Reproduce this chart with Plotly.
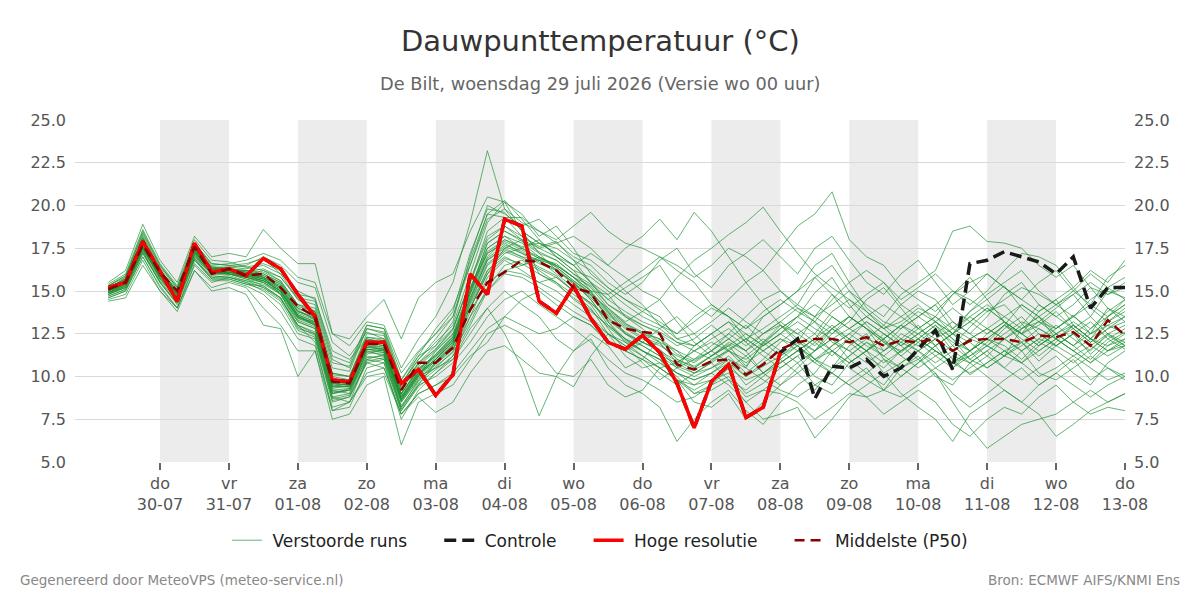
import pandas as pd
import plotly.graph_objects as go

# ---------------- data ----------------
start_time = "2026-07-29 06:00"
n_steps = 60
times = pd.date_range(start_time, periods=n_steps, freq="6h")

day_ticks = pd.date_range("2026-07-30", "2026-08-13", freq="D")
day_names = ["do", "vr", "za", "zo", "ma", "di", "wo", "do", "vr", "za", "zo", "ma", "di", "wo", "do"]
day_dates = ["30-07", "31-07", "01-08", "02-08", "03-08", "04-08", "05-08", "06-08",
             "07-08", "08-08", "09-08", "10-08", "11-08", "12-08", "13-08"]

hires = [15.2, 15.5, 17.9, 16.2, 14.4, 17.8, 16.1, 16.3, 15.9, 16.9, 16.3, 14.8, 13.5, 9.8, 9.7,
         12.0, 12.0, 9.6, 10.4, 8.9, 10.1, 16.0, 14.8, 19.2, 18.8, 14.4, 13.7, 15.3, 13.4, 12.0,
         11.6, 12.4, 11.4, 9.6, 7.0, 9.7, 10.7, 7.6, 8.2, 11.4]

control = hires + [12.2, 8.7, 10.6, 10.5, 11.0, 10.0, 10.5, 11.6, 12.7, 10.4, 16.6, 16.8, 17.3,
                   17.0, 16.7, 16.0, 17.0, 14.0, 15.2, 15.2]

p50 = [15.1, 15.5, 17.7, 16.1, 15.0, 17.6, 16.0, 16.3, 15.9, 16.0, 15.2, 14.1, 13.5, 9.7, 9.6,
       11.9, 11.9, 9.2, 10.8, 10.8, 11.7, 13.9, 15.5, 16.1, 16.8, 16.7, 16.2, 15.2, 14.9, 13.3,
       12.8, 12.6, 12.5, 10.7, 10.4, 10.9, 11.0, 10.1, 10.7, 11.6, 12.0, 12.2, 12.2, 12.0, 12.3,
       11.8, 12.1, 12.0, 12.2, 11.5, 12.1, 12.2, 12.2, 12.0, 12.4, 12.3, 12.6, 11.8, 13.3, 12.4]

members = [
    [15.2,15.6,18.2, 16.3,14.9,17.6,16.4, 16.3,16.1,16.0,15.5, 14.0,13.5,9.8,9.5, 12.0,11.8,9.0,10.5, 11.2,12.3,15.0,17.8, 18.5,17.9,17.2,16.8, 16.0,15.2,14.0,13.1, 12.5,12.2,11.0,10.5, 11.2,11.8,10.6,11.9, 12.8,13.5,14.9,15.8, 14.2,13.0,12.1,11.4, 12.2,13.0,11.8,12.9, 13.8,14.2,13.1,12.0, 12.8,13.6,12.5,14.0, 13.2],
    [14.8,15.3,17.5, 15.8,14.6,17.2,16.0, 16.1,15.8,15.6,15.0, 13.5,13.0,9.2,9.0, 11.5,11.2,8.5,9.8, 10.5,11.5,13.8,15.5, 16.2,16.5,17.0,16.5, 15.8,15.0,13.2,12.0, 11.2,10.5,9.8,9.5, 9.8,10.2,9.0,9.6, 10.5,11.2,10.0,9.5, 10.8,11.5,10.2,10.8, 11.5,12.2,11.0,10.1, 10.8,11.5,12.0,10.9, 11.8,12.5,11.3,12.2, 11.6],
    [15.1,15.8,18.5, 16.5,15.2,17.8,16.6, 16.5,16.6,16.9,16.0, 14.5,13.8,10.2,10.0, 12.5,12.4,9.5,11.0, 12.0,13.0,16.0,19.0, 20.2,19.5,18.2,18.8, 17.5,16.0,15.2,14.5, 14.0,13.5,12.2,11.8, 12.5,13.2,12.0,13.5, 14.2,15.0,16.5,17.2, 15.5,14.0,13.2,12.8, 13.5,14.2,12.8,13.8, 14.5,15.3,14.0,13.2, 14.0,14.8,13.5,15.0, 14.6],
    [14.9,15.2,17.3, 15.5,14.2,16.8,15.8, 15.9,15.6,15.2,14.5, 13.0,12.5,8.8,8.5, 11.0,10.8,8.0,9.5, 10.0,10.8,12.0,13.5, 14.5,15.0,14.2,13.5, 12.8,12.0,11.0,10.2, 9.8,9.2,8.5,8.8, 9.5,10.0,8.8,9.2, 10.0,10.8,9.5,9.0, 9.8,10.5,9.2,8.8, 9.5,10.2,9.0,8.2, 9.0,9.8,10.5,9.5, 10.2,11.0,9.8,10.5, 10.0],
    [15.3,15.9,18.0, 16.0,15.0,17.5,16.3, 16.0,15.9,16.2,15.6, 14.2,14.0,10.5,10.3, 12.8,12.6,9.8,11.2, 11.8,12.8,15.5,18.5, 19.3,18.2,17.6,17.9, 16.8,15.5,14.5,15.2, 15.8,16.5,15.0,14.2, 13.5,14.5,15.5,16.2, 15.0,14.0,13.2,12.5, 13.2,14.5,15.2,14.0, 12.8,13.5,14.8,15.8, 14.5,13.2,12.5,13.8, 14.5,13.0,12.2,13.5, 14.2],
    [15.0,15.4,17.6, 15.7,14.5,17.0,16.0, 16.2,16.2,15.8,14.8, 13.2,12.8,9.0,9.3, 11.3,11.6,8.6,10.0, 11.5,12.5,14.0,16.0, 17.5,18.0,16.0,15.5, 14.8,14.0,12.5,11.2, 10.5,10.8,10.0,9.0, 9.5,10.5,9.8,10.2, 11.0,10.2,9.2,10.5, 11.8,12.5,11.0,10.0, 10.8,11.8,12.5,11.5, 10.5,11.2,12.8,13.5, 12.2,11.5,10.8,11.8, 12.5],
    [14.6,15.0,17.0, 15.2,14.0,16.5,15.5, 15.8,15.5,15.0,14.2, 12.5,12.2,8.5,8.8, 10.8,10.5,7.8,9.0, 9.5,10.2,11.5,12.8, 13.5,14.5,15.0,14.2, 13.5,13.0,12.0,11.5, 12.0,12.8,13.5,12.5, 11.5,12.2,13.0,12.0, 11.2,12.0,13.5,14.8, 13.5,12.8,11.5,12.2, 13.0,11.8,10.5,11.2, 12.0,13.0,14.2,13.5, 12.5,11.8,12.8,13.8, 14.5],
    [15.4,16.0,18.6, 16.6,15.3,18.0,16.8, 16.7,16.4,16.2,15.8, 14.5,14.2,10.8,10.6, 13.0,12.8,10.2,11.5, 12.5,13.5,16.5,19.2, 19.8,19.0,18.5,17.8, 17.0,16.5,15.5,14.8, 15.5,16.8,17.5,16.0, 15.2,16.5,17.2,18.0, 17.0,16.0,17.5,18.2, 16.8,15.5,14.8,16.0, 16.8,15.5,14.2,15.0, 16.0,15.2,14.5,15.5, 16.2,15.0,14.2,15.8, 16.5],
    [14.9,15.3,17.4, 15.9,14.7,17.3,16.1, 16.0,15.8,15.5,14.8, 13.0,12.0,8.0,8.2, 10.5,10.8,7.5,9.2, 10.2,11.2,13.5,15.8, 16.8,16.2,15.5,15.8, 15.0,14.2,12.8,11.5, 11.0,10.2,9.5,10.2, 10.8,9.8,8.5,9.2, 9.0,8.5,7.5,8.2, 9.0,8.8,7.8,8.5, 9.2,8.5,7.2,6.5, 7.5,8.2,7.8,8.8, 9.5,8.5,7.8,8.2, 8.0],
    [15.1,15.7,18.1, 16.2,15.0,17.5,16.4, 16.4,16.3,16.5,16.0, 15.0,14.5,11.5,11.0, 12.2,12.0,9.2,10.8, 11.8,13.2,17.0,20.0, 19.5,18.8,19.2,18.2, 17.2,16.8,16.0,15.0, 14.2,13.0,12.5,13.2, 14.0,13.5,12.2,12.8, 13.5,14.2,15.8,16.5, 15.0,13.8,13.0,14.2, 15.0,14.5,13.2,12.5, 13.5,14.8,15.5,14.2, 13.5,14.2,15.2,14.0, 13.5],
    [14.7,15.1,17.2, 15.5,14.3,16.9,15.7, 15.7,15.4,15.3,14.6, 12.8,12.5,9.0,9.2, 11.0,11.3,8.2,9.5, 10.8,11.8,14.2,16.2, 17.2,17.5,18.0,17.0, 16.2,15.0,13.8,12.5, 11.8,11.2,10.5,11.0, 11.5,10.8,9.5,10.2, 11.0,11.8,10.8,10.2, 11.2,12.0,11.5,12.5, 12.0,11.2,10.5,11.5, 12.2,11.8,11.0,12.0, 11.5,10.8,11.6,12.4, 11.8],
    [14.5,14.8,16.8, 15.0,13.8,16.2,15.2, 15.5,15.2,14.0,13.0, 11.5,11.5,7.5,7.8, 9.5,10.0,6.0,8.5, 9.0,9.5,11.0,12.5, 13.0,12.5,11.5,10.2, 10.0,11.0,9.5,8.8, 9.2,10.5,9.8,8.5, 8.2,9.0,7.5,8.5, 9.5,10.5,11.5,12.2, 11.0,10.2,9.5,10.8, 11.5,10.5,9.8,10.5, 11.2,12.2,11.5,10.2, 9.8,10.5,11.2,10.5, 9.8],
    [15.2,15.6,17.9, 16.1,14.9,17.5,16.3, 16.4,16.5,17.0,16.5, 15.5,15.2,12.0,11.2, 12.6,12.2,9.5,11.2, 12.8,14.0,16.5,19.5, 20.3,19.2,18.0,17.0, 16.5,17.2,16.5,15.8, 15.0,14.5,13.2,12.0, 11.2,11.8,12.5,11.8, 12.5,13.2,12.5,13.8, 14.5,13.8,12.8,13.2, 14.0,13.5,12.5,13.8, 14.8,15.5,16.2,15.0, 14.2,15.0,16.0,15.2, 15.8],
    [15.0,15.5,17.7, 16.0,14.8,17.4,16.2, 16.1,16.0,15.7,15.2, 13.6,13.0,9.4,9.6, 11.8,11.5,8.8,10.2, 11.0,12.0,14.8,17.0, 18.0,17.6,17.8,17.2, 16.5,15.5,14.8,13.5, 12.8,12.0,10.8,10.2, 10.5,11.2,10.2,11.0, 12.0,12.8,12.0,11.2, 12.2,13.2,12.5,11.8, 12.5,13.2,12.2,11.0, 11.8,12.8,13.5,12.5, 11.8,12.5,13.2,12.2, 12.8],
    [15.3,15.8,18.3, 16.4,15.1,17.7,16.5, 16.6,16.8,17.2,16.8, 15.8,15.5,12.5,11.8, 13.2,13.0,10.5,12.2, 13.5,15.5,19.0,23.2, 19.8,18.5,17.2,16.2, 15.5,14.5,13.0,12.2, 11.5,11.0,10.2,9.5, 10.2,11.0,10.5,12.0, 13.0,12.2,11.5,12.8, 13.5,12.8,12.0,11.5, 12.2,13.0,12.2,11.5, 12.5,13.2,12.0,11.2, 12.0,13.0,12.2,11.5, 12.2],
    [15.1,15.5,17.8, 16.0,14.9,17.4,16.2, 16.2,16.0,15.8,15.2, 13.8,13.5,9.8,9.6, 12.0,11.8,9.0,10.4, 11.2,12.2,14.8,17.5, 18.2,17.8,17.0,16.5, 15.8,15.0,14.8,15.5, 16.2,17.0,16.5,15.8, 16.5,17.5,17.0,16.2, 17.5,18.8,19.5,20.8, 18.0,17.0,16.5,15.2, 14.5,13.8,14.8,15.5, 16.0,15.2,14.5,13.8, 14.5,15.2,14.0,13.2, 14.0],
    [14.8,15.2,17.5, 15.8,14.5,17.0,15.9, 15.8,15.6,15.4,14.8, 13.2,12.8,9.0,9.2, 11.2,11.0,8.2,9.8, 10.8,11.6,13.5,15.0, 16.0,15.8,15.2,14.5, 13.8,13.2,12.5,12.0, 11.5,11.0,9.8,9.0, 9.2,9.8,9.2,10.0, 10.8,11.5,12.2,13.5, 12.8,12.2,11.8,12.8, 13.5,12.8,11.5,10.8, 11.5,12.2,13.0,14.2, 13.5,12.8,12.0,12.8, 13.5],
    [15.0,15.4,17.6, 15.9,14.7,17.2,16.1, 16.0,15.8,15.5,14.9, 13.4,13.2,9.5,9.4, 11.6,11.4,8.6,10.0, 10.5,11.0,12.5,14.0, 15.0,14.2,13.5,12.2, 11.5,12.2,10.5,9.5, 9.0,8.2,6.2,7.5, 8.5,9.2,8.0,7.2, 8.5,9.5,10.2,11.5, 10.5,9.8,9.2,10.5, 11.2,10.0,9.5,10.8, 11.5,10.5,9.8,10.5, 11.2,10.2,9.5,10.8, 11.5],
    [15.2,15.7,18.0, 16.2,15.0,17.5,16.3, 16.3,16.1,15.9,15.4, 14.0,13.6,10.0,9.8, 12.2,12.0,9.2,10.6, 11.5,12.5,15.2,17.2, 17.8,17.2,16.8,16.0, 15.2,14.8,14.0,13.2, 13.8,14.5,15.8,16.8, 17.5,18.3,19.0,19.9, 18.5,17.2,16.0,15.2, 14.5,13.5,12.8,13.5, 14.2,13.2,12.5,13.2, 14.0,13.2,12.5,13.0, 13.8,12.8,12.0,12.8, 13.2],
    [14.9,15.3,17.4, 15.7,14.6,17.1,16.0, 16.0,15.7,15.3,14.6, 12.9,12.4,8.6,8.8, 10.8,11.0,8.0,9.4, 10.2,11.0,12.8,14.0, 12.5,10.5,7.7,10.0, 11.5,12.5,11.8,10.5, 11.0,12.2,11.5,10.5, 11.2,12.0,11.5,10.2, 10.8,11.5,12.2,11.5, 10.8,11.5,12.5,11.8, 11.0,11.8,12.5,12.0, 11.2,10.5,11.5,12.2, 11.8,12.5,11.8,11.2, 11.8],
    [14.6,15.0,17.0, 15.3,14.0,16.6,15.6, 15.6,15.3,14.8,13.8, 12.2,11.8,8.2,8.5, 10.2,10.5,7.8,8.8, 7.9,8.5,10.2,11.5, 11.8,11.0,10.2,10.0, 9.4,11.2,12.5,11.8, 10.8,9.8,10.5,11.8, 12.5,11.5,10.5,9.8, 9.2,8.8,9.5,10.2, 9.5,8.8,9.2,10.0, 10.8,11.5,10.8,10.2, 10.8,11.5,10.8,10.0, 10.5,11.2,10.5,9.8, 10.2],
    [15.1,15.6,17.9, 16.1,14.9,17.5,16.3, 16.2,16.1,16.3,15.8, 14.6,14.4,11.0,10.5, 12.8,12.5,9.6,11.0, 12.2,13.5,16.8,19.5, 19.3,19.3,18.5,18.0, 18.8,19.6,18.5,17.8, 17.5,17.0,16.2,15.5, 14.2,13.5,12.8,13.5, 14.2,15.0,15.8,14.8, 14.0,14.8,15.5,14.2, 13.5,14.2,15.0,14.5, 13.8,14.5,15.2,14.8, 14.2,14.8,15.5,14.8, 15.2],
    [15.0,15.5,17.7, 16.0,14.8,17.3,16.1, 16.1,15.9,15.7,15.1, 13.6,13.2,9.6,9.5, 11.7,11.6,8.8,10.2, 11.0,12.2,15.0,17.8, 18.5,18.0,17.5,17.8, 18.2,17.5,16.5,17.5, 18.2,19.2,18.0,19.6, 18.5,17.0,15.5,14.2, 13.0,12.0,11.5,12.5, 13.5,12.8,12.0,11.2, 12.0,12.8,12.0,11.5, 12.2,13.0,12.5,11.8, 12.5,13.2,12.5,13.0, 13.5],
    [14.9,15.4,17.5, 15.9,14.7,17.2,16.0, 16.0,15.8,15.6,15.0, 13.4,13.0,9.2,9.3, 11.5,11.4,8.6,10.0, 10.8,11.8,14.0,16.2, 17.0,16.5,16.8,16.2, 15.5,14.5,13.2,12.2, 11.5,10.8,10.2,9.8, 10.2,9.5,8.5,7.5, 7.8,8.2,6.4,7.5, 8.8,9.5,10.2,9.0, 8.2,7.5,6.2,7.8, 8.5,9.2,8.5,9.5, 10.2,9.5,8.8,9.5, 10.0],
    [15.0,15.4,17.6, 15.9,14.7,17.3,16.1, 16.1,15.9,15.6,15.0, 13.5,13.1,9.4,9.4, 11.6,11.5,8.7,10.1, 11.0,12.0,14.5,16.8, 17.5,17.0,16.8,16.5, 15.8,14.8,13.5,12.5, 12.0,11.5,10.5,10.0, 10.5,11.0,10.0,10.8, 11.5,12.2,11.0,10.5, 11.2,12.0,11.2,10.5, 11.0,10.2,8.5,7.0, 5.8,6.5,7.2,7.5, 7.8,8.5,9.2,8.5, 9.0],
    [15.2,15.7,18.1, 16.2,15.0,17.6,16.3, 16.3,16.2,16.0,15.5, 14.1,13.8,10.2,10.0, 12.3,12.2,9.4,10.8, 11.6,12.8,15.5,18.0, 18.8,18.2,17.5,17.0, 16.2,15.8,15.0,14.2, 13.5,13.0,12.2,12.5, 13.2,14.0,13.2,12.5, 13.2,14.0,13.5,14.2, 15.0,14.2,13.5,14.8, 15.5,16.2,18.5,18.8, 17.9,17.8,17.5,16.5, 15.8,16.5,15.2,14.8, 15.5],
    [14.8,15.2,17.3, 15.6,14.4,16.9,15.8, 15.8,15.5,15.2,14.6, 13.0,12.6,8.8,9.0, 11.1,11.2,8.3,9.7, 10.6,11.4,13.2,15.2, 16.5,16.8,16.2,15.5, 14.5,13.8,13.0,12.2, 11.8,11.2,10.8,11.5, 12.2,12.8,12.0,11.2, 10.5,11.2,12.0,12.8, 12.0,11.2,10.5,11.5, 12.2,11.5,10.8,11.5, 12.2,11.5,10.8,11.8, 12.5,11.8,11.0,12.0, 12.6],
    [15.3,15.9,18.4, 16.5,15.2,17.8,16.6, 16.5,16.4,16.6,16.2, 14.8,14.6,11.2,10.8, 13.0,12.8,9.8,11.4, 12.5,13.8,17.2,19.8, 19.6,18.5,17.8,17.5, 16.8,16.2,15.2,14.5, 13.8,13.2,12.5,13.5, 14.2,13.5,12.8,13.8, 14.5,13.8,13.2,14.5, 15.5,16.2,15.5,14.5, 15.2,16.0,15.0,14.2, 15.0,16.2,17.2,17.0, 16.5,15.2,16.2,15.5, 16.8],
    [15.0,15.5,17.8, 16.0,14.8,17.4,16.2, 16.2,16.0,15.8,15.2, 13.7,13.3,9.6,9.7, 11.9,11.7,8.9,10.3, 11.1,12.1,14.6,16.8, 17.6,17.2,16.6,16.2, 15.4,14.6,13.6,12.8, 12.2,11.8,11.2,10.8, 11.5,12.5,13.5,14.5, 15.0,14.2,13.5,12.8, 12.2,11.5,12.2,13.0, 12.5,11.8,12.5,13.5, 14.2,13.5,12.8,13.5, 14.2,13.5,14.5,15.2, 14.5],
    [14.7,15.1,17.2, 15.5,14.3,16.8,15.7, 15.7,15.4,15.1,14.4, 12.7,12.3,8.7,8.9, 10.9,11.1,8.1,9.6, 10.4,11.2,13.0,15.0, 16.2,16.0,15.5,15.0, 14.2,13.5,12.5,11.8, 11.2,10.5,9.8,9.2, 9.8,10.5,11.2,10.2, 9.5,10.2,11.0,10.2, 9.5,10.2,11.0,10.5, 9.8,10.5,11.2,10.8, 10.0,9.2,8.5,7.8, 6.5,7.2,8.0,8.5, 9.0],
    [15.5,16.2,18.9, 16.8,15.5,18.2,17.0, 17.2,17.0,18.6,17.5, 16.6,16.6,12.5,12.2, 13.5,14.5,12.2,14.6, 15.5,16.0,18.5,20.5, 20.2,18.5,17.8,17.2, 16.5,15.5,14.2,13.5, 13.0,12.5,11.8,12.2, 13.0,12.2,11.5,12.5, 13.2,12.5,11.8,12.8, 13.5,12.8,12.2,13.0, 13.8,13.2,12.5,13.2, 14.0,13.2,12.5,13.2, 12.8,13.5,14.2,13.5, 14.5],
    [14.4,14.6,16.5, 15.0,14.0,16.2,15.0, 15.2,14.8,13.0,12.8, 10.0,11.5,8.0,8.5, 10.0,10.2,7.8,9.0, 9.5,10.0,11.2,12.0, 13.5,13.0,12.5,12.8, 13.5,13.0,12.0,11.5, 11.0,10.5,10.8,11.5, 12.0,11.5,11.0,11.8, 12.5,11.8,11.0,11.5, 12.2,11.5,10.8,11.5, 12.2,11.5,10.8,11.2, 11.8,11.2,10.8,11.5, 12.2,11.5,10.8,11.5, 11.8],
    [15.0,15.5,17.9, 16.1,14.9,17.5,16.3, 16.2,16.0,15.8,15.3, 13.8,13.4,9.7,9.8, 12.1,11.9,9.0,10.4, 11.3,12.4,15.2,17.5, 18.2,17.5,17.0,16.4, 15.6,14.8,13.8,13.0, 12.5,12.0,11.5,11.0, 11.8,12.5,11.8,12.5, 13.0,12.5,13.2,12.0, 11.5,12.2,13.0,12.2, 11.8,12.5,13.2,12.5, 11.8,12.5,13.2,12.8, 12.2,12.8,13.5,12.5, 13.0],
    [15.1,15.6,17.8, 16.0,14.8,17.4,16.2, 16.2,16.1,15.9,15.4, 13.9,13.3,9.6,9.5, 11.8,11.7,8.8,10.3, 11.2,12.1,14.9,17.2, 17.9,17.4,16.9,16.6, 15.8,15.3,14.2,13.6, 13.0,12.6,12.0,11.5, 11.0,11.5,12.2,11.5, 12.2,11.5,10.8,11.8, 12.5,13.2,12.5,11.8, 12.5,13.2,14.0,13.2, 12.5,13.2,12.5,11.8, 12.5,13.0,12.2,13.0, 12.5],
    [14.9,15.4,17.6, 15.9,14.8,17.3,16.1, 16.1,15.9,15.7,15.0, 13.5,13.1,9.3,9.5, 11.7,11.6,8.7,10.1, 10.9,11.9,14.4,16.6, 17.4,17.0,16.4,15.9, 15.0,14.3,13.4,12.6, 12.0,11.6,10.6,10.2, 10.8,11.5,10.8,11.5, 12.2,11.8,11.0,11.8, 12.5,11.8,11.2,12.0, 12.8,12.2,11.5,12.2, 12.8,12.2,11.5,12.2, 13.0,12.2,11.5,12.5, 12.0],
    [15.2,15.7,18.0, 16.2,15.0,17.6,16.4, 16.3,16.2,16.1,15.6, 14.2,13.8,10.1,10.0, 12.3,12.1,9.3,10.7, 11.6,12.7,15.6,18.2, 18.8,18.0,17.3,16.8, 16.0,15.4,14.5,13.8, 13.2,12.8,12.0,11.8, 12.5,13.2,12.5,11.8, 12.5,13.5,14.2,13.5, 12.8,13.5,14.2,13.5, 12.8,13.5,12.8,12.2, 12.8,13.5,14.2,13.5, 12.8,13.5,12.8,13.5, 14.2],
    [14.8,15.3,17.5, 15.8,14.6,17.1,16.0, 16.0,15.7,15.5,14.9, 13.3,12.9,9.1,9.2, 11.4,11.3,8.5,9.9, 10.7,11.6,14.0,16.0, 16.9,16.6,16.0,15.4, 14.6,13.9,12.9,12.1, 11.5,11.0,10.2,9.8, 10.2,10.8,10.0,10.6, 11.2,11.8,12.5,11.5, 10.8,11.5,12.2,11.2, 10.5,11.2,11.8,11.0, 10.5,11.2,11.8,12.5, 11.8,11.2,11.8,12.5, 11.8],
    [15.0,15.5,17.7, 16.0,14.8,17.4,16.2, 16.1,16.0,15.7,15.1, 13.6,13.2,9.5,9.6, 11.8,11.6,8.8,10.2, 11.0,12.0,14.6,16.9, 17.7,17.3,16.7,16.3, 15.5,14.7,13.7,12.9, 12.3,11.9,11.0,10.6, 11.2,11.9,11.2,12.0, 12.8,13.5,12.8,12.2, 12.8,13.5,12.8,12.0, 11.5,12.2,12.8,13.5, 12.8,12.2,12.8,13.2, 12.5,11.8,12.5,13.2, 13.8],
    [15.1,15.6,17.9, 16.1,14.9,17.5,16.3, 16.2,16.0,15.8,15.3, 13.8,13.4,9.8,9.7, 12.0,11.8,9.0,10.4, 11.3,12.3,15.0,17.3, 18.0,17.5,16.9,16.4, 15.6,14.9,13.9,13.1, 12.6,12.2,11.3,10.9, 11.5,12.2,11.5,12.2, 11.5,10.8,11.5,12.2, 11.5,10.8,11.5,12.2, 11.5,10.8,11.5,12.2, 11.8,11.2,12.0,12.8, 12.2,11.5,12.2,11.8, 12.2],
    [14.9,15.4,17.6, 15.9,14.7,17.3,16.1, 16.1,15.9,15.6,15.0, 13.5,13.0,9.4,9.4, 11.6,11.5,8.7,10.1, 10.9,11.8,14.3,16.5, 17.3,16.9,16.3,15.8, 15.0,14.3,13.3,12.5, 12.0,11.5,10.9,10.4, 10.9,11.6,12.2,11.5, 10.8,11.5,12.2,13.0, 12.2,11.5,12.2,13.0, 12.2,11.5,10.8,11.5, 12.2,13.0,12.2,11.5, 12.2,13.0,12.2,11.5, 12.0],
]

y_ticks = [5.0, 7.5, 10.0, 12.5, 15.0, 17.5, 20.0, 22.5, 25.0]

title_text = "Dauwpunttemperatuur (°C)"
subtitle_text = "De Bilt, woensdag 29 juli 2026 (Versie wo 00 uur)"
footer_left = "Gegenereerd door MeteoVPS (meteo-service.nl)"
footer_right = "Bron: ECMWF AIFS/KNMI Ens"
legend_names = ["Verstoorde runs", "Controle", "Hoge resolutie", "Middelste (P50)"]

# ---------------- figure ----------------
FONT = "DejaVu Sans"
PAD = "\u00a0" * 5
LEAD = "\u00a0"
fig = go.Figure()

for k, m in enumerate(members):
    fig.add_trace(go.Scatter(
        x=times[:len(m)], y=m, mode="lines",
        line=dict(color="rgba(30,145,50,0.68)", width=1),
        name=LEAD + legend_names[0] + PAD, legendgroup="ens", showlegend=(k == 0),
        hoverinfo="skip"))

fig.add_trace(go.Scatter(x=times[:len(control)], y=control, mode="lines",
                         line=dict(color="#1a1a1a", width=3.5, dash="12px,6px"),
                         name=LEAD + legend_names[1] + PAD))
fig.add_trace(go.Scatter(x=times[:len(hires)], y=hires, mode="lines",
                         line=dict(color="#ff0000", width=3.5),
                         name=LEAD + legend_names[2] + PAD))
fig.add_trace(go.Scatter(x=times[:len(p50)], y=p50, mode="lines",
                         line=dict(color="#8b0000", width=2.5, dash="10px,6px"),
                         name=LEAD + legend_names[3]))
# invisible trace for the right-hand axis
fig.add_trace(go.Scatter(x=[times[0]], y=[None], yaxis="y2", showlegend=False,
                         hoverinfo="skip", mode="lines"))

shapes = []
for i in range(0, len(day_ticks) - 1, 2):
    shapes.append(dict(type="rect", xref="x", yref="paper",
                       x0=day_ticks[i], x1=day_ticks[i + 1], y0=0, y1=1,
                       fillcolor="#ececec", line=dict(width=0), layer="below"))

tick_text = [f"{n}<br>{d}" for n, d in zip(day_names, day_dates)]

x_left = day_ticks[0] - pd.Timedelta(hours=29.6)

fig.update_layout(
    width=1200, height=600,
    margin=dict(l=75, r=75, t=120, b=138),
    paper_bgcolor="white", plot_bgcolor="white",
    font=dict(family=FONT, size=16, color="#555555"),
    showlegend=True,
    legend=dict(orientation="h", x=0.5, xanchor="center", y=-0.23, yanchor="middle",
                font=dict(size=17, color="#222222"), itemwidth=30,
                traceorder="normal"),
    shapes=shapes,
    xaxis=dict(range=[x_left, day_ticks[-1]], tickmode="array",
               tickvals=list(day_ticks), ticktext=tick_text,
               showgrid=False, zeroline=False, showline=False,
               ticks="outside", ticklen=7, tickwidth=2, tickcolor="#666666",
               tickfont=dict(size=16, color="#555555")),
    yaxis=dict(range=[5, 25], tickmode="array", tickvals=y_ticks,
               ticktext=[f"{v:.1f}" for v in y_ticks],
               showgrid=True, gridcolor="#d9d9d9", gridwidth=1,
               zeroline=False, showline=False, ticks="",
               ticklabelstandoff=8,
               tickfont=dict(size=16, color="#555555")),
    yaxis2=dict(range=[5, 25], overlaying="y", side="right", tickmode="array",
                tickvals=y_ticks, ticktext=[f"{v:.1f}" for v in y_ticks],
                showgrid=False, zeroline=False, showline=False, ticks="",
                ticklabelstandoff=8,
                tickfont=dict(size=16, color="#555555")),
    annotations=[
        dict(text=title_text, xref="paper", yref="paper", x=0.5, y=1 + (120 - 41) / 342,
             xanchor="center", yanchor="middle", showarrow=False,
             font=dict(size=29, color="#333333", family=FONT)),
        dict(text=subtitle_text, xref="paper", yref="paper", x=0.5, y=1 + (120 - 83) / 342,
             xanchor="center", yanchor="middle", showarrow=False,
             font=dict(size=17.8, color="#666666", family=FONT)),
        dict(text=footer_left, xref="paper", yref="paper", x=(18 - 75) / 1050,
             y=-(580 - 462) / 342, xanchor="left", yanchor="middle", showarrow=False,
             font=dict(size=13.5, color="#888888", family=FONT)),
        dict(text=footer_right, xref="paper", yref="paper", x=(1182 - 75) / 1050,
             y=-(580 - 462) / 342, xanchor="right", yanchor="middle", showarrow=False,
             font=dict(size=13.5, color="#888888", family=FONT)),
    ],
)

fig.write_html("out.html")
